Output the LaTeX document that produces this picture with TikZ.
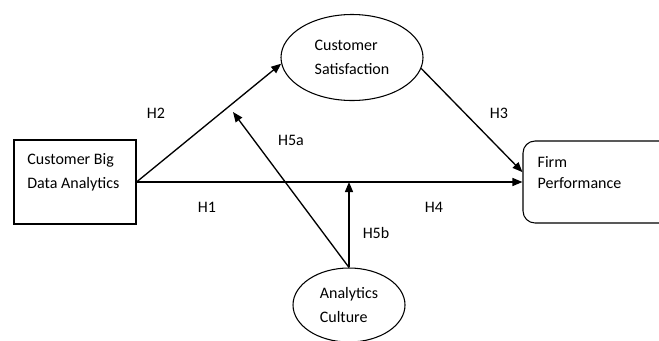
\documentclass[tikz,border=0pt]{standalone}
\usepackage{fontspec}
\setmainfont{Carlito}
\usetikzlibrary{shapes.geometric,arrows.meta}
\begin{document}
\begin{tikzpicture}[x=0.75pt, y=-0.75pt,
    every node/.style={font=\fontsize{12}{18}\selectfont},
    box/.style={draw, line width=0.8pt, inner xsep=10pt},
    oval/.style={ellipse, draw, line width=0.8pt, align=left},
    link/.style={line width=1pt, -{Triangle[length=7.5pt, width=6pt]}}]
    \useasboundingbox (0,0) rectangle (659,340);

    \node[box, inner ysep=10pt] (cbda) at (75,182)
        {\parbox[t][43pt][t]{71.5pt}{\raggedright Customer Big\\Data Analytics}};
    \node[box, rounded corners=9pt, inner xsep=11pt, inner ysep=11.5pt, font=\fontsize{12}{16}\selectfont] (firm) at (603,182)
        {\parbox[t][38.5pt][t]{98pt}{\raggedright Firm\\Performance}};
    \node[oval, minimum width=106.5pt, minimum height=64.5pt] (sat) at (352,57.5) {Customer\\Satisfaction};
    \node[oval, minimum width=84pt, minimum height=55.5pt] (culture) at (349,305) {Analytics\\Culture};

    \coordinate (h5atip) at (233,112);

    \draw[link] (cbda.east) -- (firm.west);
    \draw[link] (cbda.east) -- (sat.185);
    \draw[link] (sat.-9) -- (firm.173);
    \draw[link] (culture.north) -- (h5atip);
    \draw[link] (culture.north) -- (culture.north |- cbda.east);

    \node (lH2) at (156,113) {H2};
    \node (lH5a) at (291,140) {H5a};
    \node (lH3) at (499,113) {H3};
    \node (lH1) at (207,207) {H1};
    \node (lH4) at (434,207) {H4};
    \node (lH5b) at (376,233) {H5b};
\end{tikzpicture}
\end{document}
